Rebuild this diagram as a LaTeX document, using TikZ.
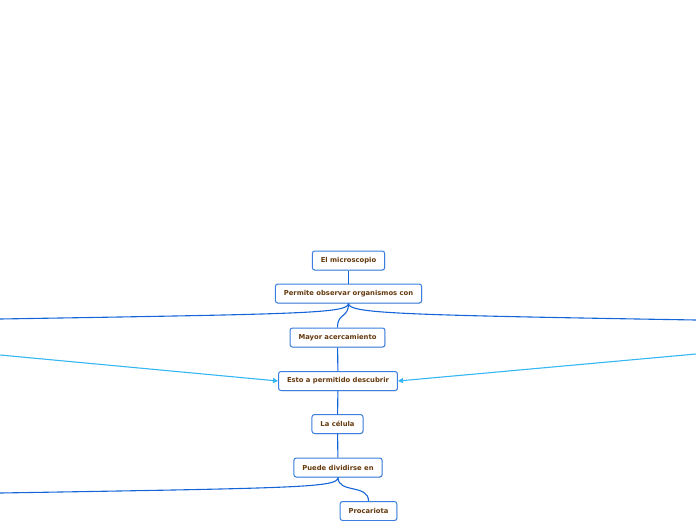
\documentclass[tikz,border=0pt]{standalone}
\usepackage{fontspec}
\setsansfont{DejaVu Sans}
\usetikzlibrary{arrows.meta, shadows}

\definecolor{blu}{HTML}{1565D8}
\definecolor{bordo}{HTML}{3A7FE0}
\definecolor{testo}{HTML}{653A0E}
\definecolor{celeste}{HTML}{36B6F2}

\tikzset{
  tema/.style={draw=bordo, line width=1pt, rounded corners=2.5pt, fill=white,
    drop shadow={shadow xshift=0.6pt, shadow yshift=-0.8pt, opacity=0.25},
    font=\sffamily\bfseries\fontsize{6.8}{7}\selectfont, text=testo,
    minimum height=19pt, inner xsep=8.5pt, inner ysep=0pt},
  linea/.style={blu, line width=1.1pt},
  rel/.style={celeste, line width=1.1pt, -{Triangle[length=5pt, width=5pt]}}
}

\begin{document}
\begin{tikzpicture}[x=1pt, y=-1pt]
  \useasboundingbox (0,0) rectangle (696,520);

  % nodi
  \node[tema] (micro) at (348.5,260.5) {El microscopio};
  \node[tema] (perm) at (348.5,293.5) {Permite observar organismos con};
  \node[tema] (mayor) at (337.5,337.5) {Mayor acercamiento};
  \node[tema] (esto) at (338,381) {Esto a permitido descubrir};
  \node[tema] (cel) at (337.5,424) {La célula};
  \node[tema] (puede) at (338,467.5) {Puede dividirse en};
  \node[tema] (proc) at (368.5,511) {Procariota};

  % estremi liberi dei rami
  \coordinate (sx1) at (0,319);
  \coordinate (dx1) at (696,320);
  \coordinate (sx2) at (0,355);
  \coordinate (dx2) at (696,354);
  \coordinate (sx3) at (0,493);

  % rami
  \draw[linea] (micro) -- (perm);
  \draw[linea] (perm.south) .. controls ++(0,10) and (300,314) .. (sx1);
  \draw[linea] (perm.south) .. controls ++(0,10) and (400,315) .. (dx1);
  \draw[linea] (perm.south) .. controls ++(0,15) and ++(0,-15) .. (mayor.north);
  \draw[linea] (mayor) -- (esto);
  \draw[linea] (esto) -- (cel);
  \draw[linea] (cel) -- (puede);
  \draw[linea] (puede.south) .. controls ++(0,10) and (300,488) .. (sx3);
  \draw[linea] (puede.south) .. controls ++(0,16) and ++(0,-17) .. (proc.north);

  % relazioni
  \draw[rel] (sx2) -- (esto.west);
  \draw[rel] (dx2) -- (esto.east);
\end{tikzpicture}
\end{document}
